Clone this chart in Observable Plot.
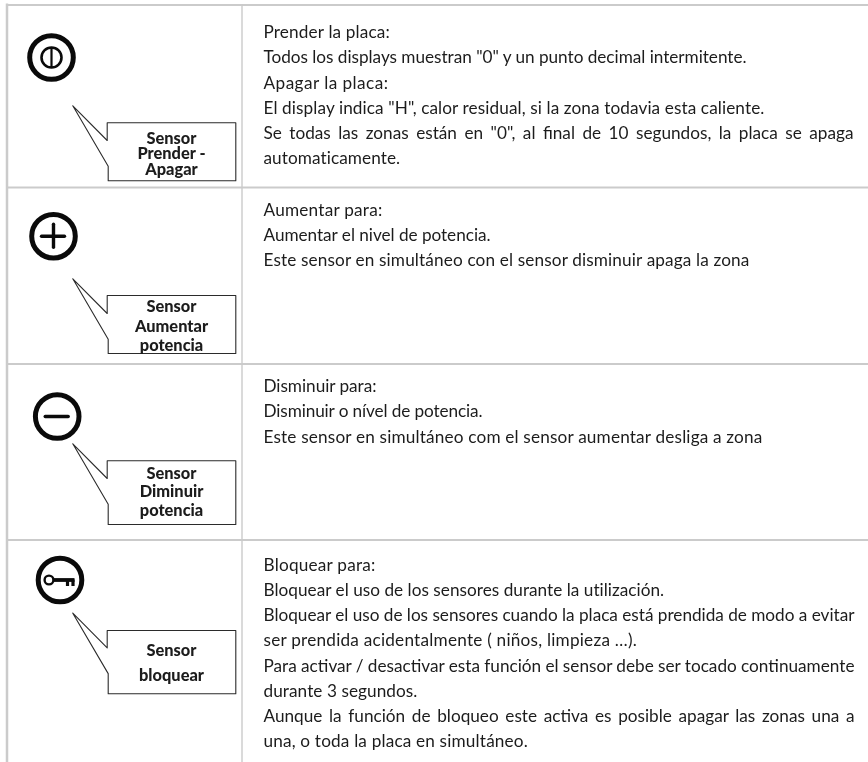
<!DOCTYPE html>
<html><head><meta charset="utf-8">
<script src="https://cdn.jsdelivr.net/npm/d3@7"></script>
<script src="https://cdn.jsdelivr.net/npm/@observablehq/plot@0.6"></script>
<style>html,body{margin:0;padding:0;background:#fff}svg{display:block;filter:blur(0.3px)}</style>
</head><body><div id="chart"></div>
<script>
const row1Text=["Prender la placa:",'Todos los displays muestran "0" y un punto decimal intermitente.',"Apagar la placa:",'El display indica "H", calor residual, si la zona todavia esta caliente.','Se todas las zonas están en "0", al final de 10 segundos, la placa se apaga',"automaticamente."];
const row2Text=["Aumentar para:","Aumentar el nivel de potencia.","Este sensor en simultáneo con el sensor disminuir apaga la zona"];
const row3Text=["Disminuir para:","Disminuir o nível de potencia.","Este sensor en simultáneo com el sensor aumentar desliga a zona"];
const row4Text=["Bloquear para:","Bloquear el uso de los sensores durante la utilización.","Bloquear el uso de los sensores cuando la placa está prendida de modo a evitar","ser prendida acidentalmente ( niños, limpieza …).","Para activar / desactivar esta función el sensor debe ser tocado continuamente","durante 3 segundos.","Aunque la función de bloqueo este activa es posible apagar las zonas una a","una, o toda la placa en simultáneo."];
const lineEnds=[[389.5,746,388,764,853,400],[382,490,749],[376,482,762],[375,664,854,636.5,854,417,854,527.5]];
const labels=[["Sensor","Prender -","Apagar"],["Sensor","Aumentar","potencia"],["Sensor","Diminuir","potencia"],["Sensor","bloquear"]];
const labelBaselines=[[143.5,158.5,174.5],[311.5,331.5,350],[478,496.5,515],[655,680.5]];
const rowTops=[4.5,187,363.5,539.5];
const textBaselines=[37.7,215,391.7,570];
const tips=[105.3,278.3,443.3,612.7];
const boxTops=[122.3,295,460.3,630];
const boxBottoms=[180.3,353,524,693.3];
const icons=[[51,57],[53,235.7],[56.7,416],[59.5,579.5]];
const textRows=[row1Text,row2Text,row3Text,row4Text];
const bodyData=textRows.flatMap((r,i)=>r.map((t,j)=>({t,x:263,y:textBaselines[i]+j*25.25,end:lineEnds[i][j]})));
const labelData=labels.flatMap((r,i)=>r.map((t,j)=>({t,x:171,y:labelBaselines[i][j]})));
const callouts=tips.flatMap((tip,i)=>{const a=boxTops[i],b=boxBottoms[i];
  return [[72.3,tip],[106.7,tip+34.7],[106.7,a],[235.3,a],[235.3,b],[107.7,b],[107.7,tip+60.4],[72.3,tip]].map(([x,y])=>({x,y,i}));});
const ringData=icons.map(([x,y])=>({x,y}));
const[p,plus,minus,key]=icons;
const ink="#0a0a0a";
const chart=Plot.plot({width:868,height:762,margin:0,
 x:{domain:[0,868],range:[0,868],axis:null},y:{domain:[0,762],range:[0,762],axis:null},
 marks:[
  Plot.ruleY(rowTops,{x1:6,x2:868,stroke:"#cbcbcb",strokeWidth:2.2}),
  Plot.ruleX([6.5],{y1:3.5,y2:762,stroke:"#cbcbcb",strokeWidth:2.5}),
  Plot.ruleX([241.5],{y1:4,y2:762,stroke:"#cbcbcb",strokeWidth:1.4}),
  Plot.dot(ringData,{x:"x",y:"y",r:21.8,stroke:ink,strokeWidth:5,fill:"none"}),
  Plot.dot([p],{x:d=>d[0],y:d=>d[1],r:10,stroke:ink,strokeWidth:2.6,fill:"none"}),
  Plot.ruleX([p[0]],{y1:p[1]-10,y2:p[1]+10,stroke:ink,strokeWidth:2.2}),
  Plot.ruleY([plus[1]],{x1:plus[0]-11.5,x2:plus[0]+11.5,stroke:ink,strokeWidth:3.4,strokeLinecap:"round"}),
  Plot.ruleX([plus[0]],{y1:plus[1]-11.5,y2:plus[1]+11.5,stroke:ink,strokeWidth:3.4,strokeLinecap:"round"}),
  Plot.ruleY([minus[1]],{x1:minus[0]-11.5,x2:minus[0]+11.5,stroke:ink,strokeWidth:3.4,strokeLinecap:"round"}),
  Plot.dot([key],{x:d=>d[0]-11,y:d=>d[1],r:4.4,stroke:ink,strokeWidth:2.4,fill:"none"}),
  Plot.ruleY([key[1]],{x1:key[0]-6.5,x2:key[0]+15,stroke:ink,strokeWidth:3.8}),
  Plot.ruleX([key[0]+7.5,key[0]+13],{y1:key[1],y2:key[1]+6.5,stroke:ink,strokeWidth:3.2}),
  Plot.line(callouts,{x:"x",y:"y",z:"i",stroke:"#2b2b2b",strokeWidth:1.1,curve:"linear"}),
  Plot.text(bodyData,{x:"x",y:"y",text:"t",textAnchor:"start",lineAnchor:"bottom",fontFamily:"Lato",fontSize:17.2,fill:"#1c1c1c",className:"body-text"}),
  Plot.text(labelData,{x:"x",y:"y",text:"t",textAnchor:"middle",lineAnchor:"bottom",fontFamily:"Lato",fontWeight:900,fontSize:16.4,fill:"#1c1c1c"})
 ]});
document.getElementById("chart").append(chart);
// fit each body line to the width: justified lines by word spacing, the rest by letter spacing
chart.querySelectorAll(".body-text text").forEach((el,i)=>{
  const d=bodyData[i];
  const gap=d.end-d.x-el.getComputedTextLength();
  if(d.end>=850) el.style.wordSpacing=(gap/(d.t.split(" ").length-1))+"px";
  else el.style.letterSpacing=(gap/d.t.length)+"px";
});
</script></body></html>
